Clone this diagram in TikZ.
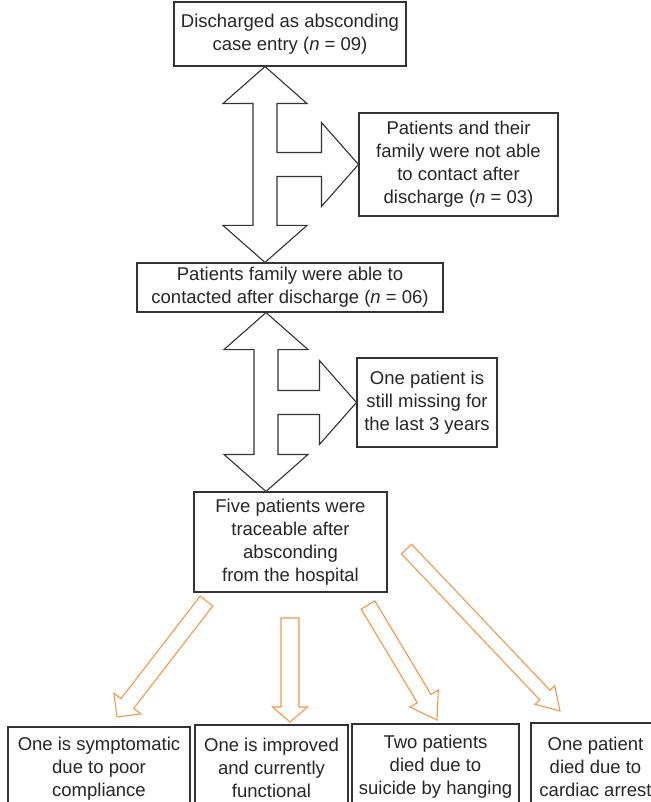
\documentclass[tikz,border=0pt]{standalone}
\usepackage{fontspec}
\setmainfont{Liberation Sans}
\usetikzlibrary{calc}
\definecolor{arroworange}{HTML}{F79646}
\newcommand{\boxcolor}{black!80}
\newcommand{\thickness}{1.1pt}
\newcommand{\shaft}{12pt}
\newcommand{\head}{42pt}
\newcommand{\headlen}{37pt}

% three-headed block arrow: top tip, bottom tip, right tip
\newcommand{\tripleArrow}[3]{
\draw[\boxcolor, line width=\thickness, line join=miter] let \p1=(#1), \p2=(#2), \p3=(#3) in
 (\x1,\y1) -- (\x1+\head,\y1-\headlen) -- (\x1+\shaft,\y1-\headlen) -- (\x1+\shaft,\y3+\shaft)
 -- (\x3-\headlen,\y3+\shaft) -- (\x3-\headlen,\y3+\head) -- (\x3,\y3) -- (\x3-\headlen,\y3-\head)
 -- (\x3-\headlen,\y3-\shaft) -- (\x1+\shaft,\y3-\shaft) -- (\x1+\shaft,\y2+\headlen)
 -- (\x1+\head,\y2+\headlen) -- (\x1,\y2) -- (\x1-\head,\y2+\headlen) -- (\x1-\shaft,\y2+\headlen)
 -- (\x1-\shaft,\y1-\headlen) -- (\x1-\head,\y1-\headlen) -- cycle;
}
% hollow block arrow: tail, tip, shaft half width, head half width, head length
\newcommand{\blockArrow}[5]{
\draw[arroworange, line width=\thickness, line join=miter]
 ($(#1)!#3!90:(#2)$) -- ($(#2)!#5!(#1)!#3!90:(#2)$) -- ($(#2)!#5!(#1)!#4!90:(#2)$) -- (#2)
 -- ($(#2)!#5!(#1)!#4!-90:(#2)$) -- ($(#2)!#5!(#1)!#3!-90:(#2)$) -- ($(#1)!#3!-90:(#2)$) -- cycle;
}

\begin{document}
\begin{tikzpicture}[x=1pt, y=-1pt,
  box/.style={draw=\boxcolor, line width=\thickness, align=center, inner sep=2pt,
    text=black!85, font=\fontsize{18.5}{23}\selectfont}]
\useasboundingbox (0,0) rectangle (650,802);
\node[box] (b1) at (290, 34) [minimum width=232, minimum height=64]
  {Discharged as absconding\\case entry (\textit{n} = 09)};
\node[box] (r1) at (458.5, 164.5) [minimum width=199, minimum height=103]
  {Patients and their\\family were not able\\to contact after\\discharge (\textit{n} = 03)};
\node[box] (b2) at (290, 287.5) [minimum width=306, minimum height=49]
  {Patients family were able to\\contacted after discharge (\textit{n} = 06)};
\node[box] (r2) at (427, 402.5) [minimum width=140, minimum height=89]
  {One patient is\\still missing for\\the last 3 years};
\node[box] (b3) at (290.5, 542) [minimum width=193, minimum height=100]
  {Five patients were\\traceable after\\absconding\\from the hospital};
\node[box] (o1) at (99, 768.5) [minimum width=182, minimum height=83]
  {One is symptomatic\\due to poor\\compliance};
\node[box] (o2) at (271.5, 767.5) [minimum width=153, minimum height=85]
  {One is improved\\and currently\\functional};
\node[box] (o3) at (435.5, 767) [minimum width=167, minimum height=86]
  {Two patients\\died due to\\suicide by hanging};
\node[box] (o4) at (595.5, 766.5) [minimum width=129, minimum height=87]
  {One patient\\died due to\\cardiac arrest};
%black arrows
\coordinate (up1) at ([xshift=-25pt]b1.south);
\coordinate (dn1) at ([xshift=-25pt]b2.north);
\coordinate (up2) at ([xshift=-24pt]b2.south);
\coordinate (dn2) at ([xshift=-24.5pt]b3.north);
\tripleArrow{up1}{dn1}{r1.west}
\tripleArrow{up2}{dn2}{r2.west}
%orange arrows
\coordinate (from1) at (206.5, 601);
\coordinate (to1) at (117, 717);
\coordinate (from2) at (290, 618);
\coordinate (to2) at (290, 722);
\coordinate (from3) at (368, 605);
\coordinate (to3) at (437, 720);
\coordinate (from4) at (406.5, 549);
\coordinate (to4) at (560, 711);
\blockArrow{from1}{to1}{8pt}{17pt}{17pt}
\blockArrow{from2}{to2}{9pt}{17.5pt}{15pt}
\blockArrow{from3}{to3}{8pt}{16.5pt}{25pt}
\blockArrow{from4}{to4}{7pt}{13.5pt}{22pt}
\end{tikzpicture}
\end{document}
